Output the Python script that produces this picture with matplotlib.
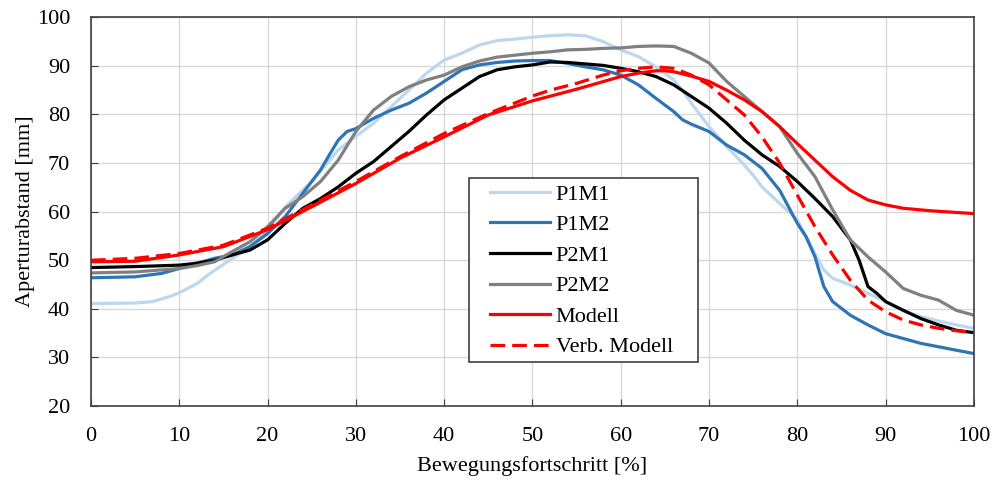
import matplotlib.pyplot as plt
from matplotlib.patches import Rectangle

plt.rcParams['font.family'] = ['Liberation Serif', 'DejaVu Serif']

# Bewegungsfortschritt [%] und Aperturabstand [mm]
x_p1m1 = [0, 5, 7, 9, 10, 12, 13.5, 16, 18, 20, 22, 25, 28, 30, 32, 34, 36, 38, 40, 42, 44, 46, 48,
          50, 52, 54, 56, 58, 60, 62, 64, 66, 67, 68, 70, 72, 74, 75, 76, 78, 80, 82, 83, 84, 86,
          88, 90, 92, 94, 96, 98, 100]
y_p1m1 = [41.1, 41.2, 41.5, 42.6, 43.3, 45.2, 47.3, 50.4, 52.8, 56.2, 61.0, 66.2, 72.7, 75.5, 78.2,
          81.6, 85.0, 88.5, 91.2, 92.6, 94.3, 95.2, 95.5, 95.9, 96.2, 96.4, 96.2, 95.0, 93.3, 91.9,
          89.8, 87.1, 85.0, 82.3, 77.5, 73.4, 69.6, 67.5, 65.1, 61.7, 58.3, 51.4, 48.0, 46.3, 44.9,
          43.2, 41.5, 39.7, 38.4, 37.5, 36.7, 36.0]

x_p1m2 = [0, 5, 8, 10, 12, 14, 16, 18, 20, 22, 24, 26, 27, 28, 29, 30, 32, 34, 36, 38, 40, 42, 44,
          46, 48, 50, 52, 54, 56, 58, 60, 62, 64, 66, 67, 68, 70, 72, 74, 76, 78, 80, 81, 82, 83,
          84, 86, 88, 90, 92, 94, 96, 98, 100]
y_p1m2 = [46.4, 46.6, 47.3, 48.3, 49.4, 50.4, 51.1, 52.8, 55.5, 59.0, 63.8, 68.6, 71.7, 74.7, 76.5,
          77.1, 79.2, 80.9, 82.3, 84.4, 86.8, 89.2, 90.2, 90.7, 91.0, 91.1, 91.1, 90.5, 89.8, 89.2,
          88.1, 86.1, 83.3, 80.6, 78.9, 78.0, 76.5, 73.7, 71.7, 68.9, 64.4, 57.6, 54.8, 50.7, 44.6,
          41.5, 38.7, 36.7, 34.9, 33.9, 32.9, 32.2, 31.5, 30.8]

x_p2m1 = [0, 5, 10, 12, 14, 16, 18, 20, 22, 24, 26, 28, 30, 32, 34, 36, 38, 40, 42, 44, 46, 48, 50,
          52, 54, 56, 58, 60, 62, 64, 66, 68, 70, 72, 74, 76, 78, 80, 82, 84, 86, 87, 88, 89, 90,
          92, 94, 96, 98, 100]
y_p2m1 = [48.5, 48.7, 49.0, 49.4, 50.0, 51.1, 52.1, 54.2, 57.6, 60.7, 62.7, 65.1, 67.9, 70.3, 73.4,
          76.5, 79.9, 83.0, 85.4, 87.8, 89.2, 89.8, 90.2, 90.8, 90.7, 90.4, 90.1, 89.5, 88.8, 87.8,
          86.1, 83.7, 81.3, 78.2, 74.7, 71.7, 69.3, 66.2, 62.7, 59.0, 54.2, 50.0, 44.6, 43.2, 41.5,
          39.7, 38.0, 36.7, 35.6, 35.1]

x_p2m2 = [0, 5, 10, 12, 14, 16, 18, 20, 22, 24, 26, 28, 30, 32, 34, 36, 38, 40, 42, 44, 46, 48, 50,
          52, 54, 56, 58, 60, 62, 64, 66, 68, 70, 72, 74, 76, 78, 80, 82, 84, 86, 88, 90, 92, 94,
          96, 98, 100]
y_p2m2 = [47.4, 47.6, 48.3, 48.9, 49.7, 51.8, 53.8, 56.9, 60.7, 63.1, 66.2, 70.6, 76.5, 80.9, 83.7,
          85.7, 87.1, 88.1, 89.8, 91.0, 91.8, 92.2, 92.6, 92.9, 93.3, 93.4, 93.6, 93.7, 94.0, 94.1,
          94.0, 92.6, 90.6, 86.8, 83.7, 80.6, 77.5, 72.0, 67.2, 60.4, 54.2, 50.7, 47.6, 44.2, 42.8,
          41.8, 39.7, 38.7]

x_mod = [0, 5, 10, 15, 20, 25, 30, 35, 40, 45, 50, 55, 60, 62, 64, 65, 66, 68, 70, 72, 74, 76, 78,
         80, 82, 84, 86, 88, 90, 92, 95, 100]
y_mod = [49.7, 49.8, 51.1, 52.8, 56.3, 61.0, 65.8, 71.0, 75.4, 79.9, 82.8, 85.2, 87.8, 88.5, 89.0,
         89.0, 88.8, 87.9, 86.8, 85.0, 83.0, 80.6, 77.5, 74.0, 70.6, 67.2, 64.4, 62.4, 61.4, 60.7,
         60.2, 59.6]

x_verb = [0, 5, 10, 15, 20, 25, 30, 35, 40, 45, 50, 52, 55, 58, 60, 62, 64, 66, 68, 70, 72, 74, 76,
          78, 80, 82, 84, 86, 88, 90, 92, 94, 96, 98, 100]
y_verb = [50.0, 50.4, 51.4, 53.1, 56.6, 61.4, 66.2, 71.3, 76.1, 80.2, 83.8, 85.0, 86.4, 88.1, 89.0,
          89.5, 89.8, 89.5, 88.1, 86.1, 83.0, 79.9, 75.4, 70.0, 63.4, 56.9, 51.1, 45.9, 41.8, 39.4,
          37.7, 36.7, 36.0, 35.5, 35.1]

fs = 16

fig, ax = plt.subplots(figsize=(10.03, 4.8), dpi=100)
fig.subplots_adjust(left=0.0907, right=0.971, bottom=0.154, top=0.964)

lw = 2.3
ax.plot(x_p1m1, y_p1m1, color='#BDD7EE', lw=lw, label='P1M1')
ax.plot(x_p1m2, y_p1m2, color='#2E75B6', lw=lw, label='P1M2')
ax.plot(x_p2m1, y_p2m1, color='black', lw=lw, label='P2M1')
ax.plot(x_p2m2, y_p2m2, color='#808080', lw=lw, label='P2M2')
ax.plot(x_mod, y_mod, color='#FF0000', lw=lw, label='Modell')
ax.plot(x_verb, y_verb, color='#FF0000', lw=lw, ls=(0, (4.6, 2.2)), label='Verb. Modell')

ax.set_xlim(0, 100)
ax.set_ylim(20, 100)
ax.set_xticks(range(0, 101, 10))
ax.set_yticks(range(20, 101, 10))
ax.grid(True, color='#D9D9D9', lw=1)
ax.set_axisbelow(True)
for s in ax.spines.values():
    s.set_color('#404040')
    s.set_linewidth(1.2)
ax.tick_params(direction='in', length=5, color='#404040', labelsize=fs, pad=15)

ax.set_xlabel('Bewegungsfortschritt [%]', fontsize=fs, labelpad=7)
ax.set_ylabel('Aperturabstand [mm]', fontsize=fs, labelpad=1)

# Legendenrahmen separat, damit Innenabstaende wie im Original
ax.add_patch(Rectangle((0.428, 0.113), 0.2593, 0.4734, transform=ax.transAxes,
                       facecolor='white', edgecolor='#404040', lw=1.2, zorder=4.9))
leg = ax.legend(loc='upper left', bbox_to_anchor=(0.4519, 0.571), borderaxespad=0,
                fontsize=fs, frameon=False, borderpad=0,
                handlelength=2.7, handletextpad=0.25, labelspacing=0.45)
leg.set_zorder(5)

fig.savefig('out.png', dpi=100)
